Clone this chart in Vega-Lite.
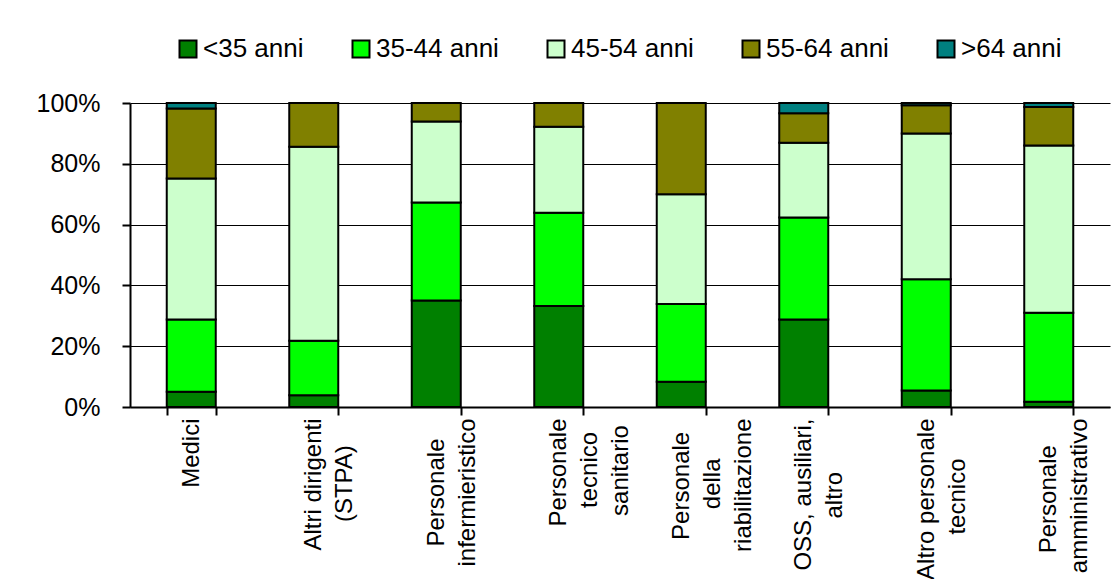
{
  "$schema": "https://vega.github.io/schema/vega-lite/v6.json",
  "autosize": "none",
  "width": 980,
  "height": 304,
  "padding": {"left": 130, "top": 103, "right": 8, "bottom": 172},
  "background": "white",
  "config": {
    "font": "Liberation Sans",
    "view": {"stroke": null},
    "axis": {"labelFont": "Liberation Sans", "labelFontSize": 24, "labelColor": "#000", "domainColor": "#000", "tickColor": "#000", "title": null}
  },
  "data": {
    "values": [
      {"cat": "Medici", "eta": "<35 anni", "v": 5.0},
      {"cat": "Medici", "eta": "35-44 anni", "v": 23.8},
      {"cat": "Medici", "eta": "45-54 anni", "v": 46.4},
      {"cat": "Medici", "eta": "55-64 anni", "v": 23.0},
      {"cat": "Medici", "eta": ">64 anni", "v": 1.8},
      {"cat": "Altri dirigenti (STPA)", "eta": "<35 anni", "v": 3.9},
      {"cat": "Altri dirigenti (STPA)", "eta": "35-44 anni", "v": 17.9},
      {"cat": "Altri dirigenti (STPA)", "eta": "45-54 anni", "v": 63.8},
      {"cat": "Altri dirigenti (STPA)", "eta": "55-64 anni", "v": 14.4},
      {"cat": "Altri dirigenti (STPA)", "eta": ">64 anni", "v": 0},
      {"cat": "Personale infermieristico", "eta": "<35 anni", "v": 35.0},
      {"cat": "Personale infermieristico", "eta": "35-44 anni", "v": 32.3},
      {"cat": "Personale infermieristico", "eta": "45-54 anni", "v": 26.6},
      {"cat": "Personale infermieristico", "eta": "55-64 anni", "v": 6.1},
      {"cat": "Personale infermieristico", "eta": ">64 anni", "v": 0},
      {"cat": "Personale tecnico sanitario", "eta": "<35 anni", "v": 33.2},
      {"cat": "Personale tecnico sanitario", "eta": "35-44 anni", "v": 30.7},
      {"cat": "Personale tecnico sanitario", "eta": "45-54 anni", "v": 28.3},
      {"cat": "Personale tecnico sanitario", "eta": "55-64 anni", "v": 7.8},
      {"cat": "Personale tecnico sanitario", "eta": ">64 anni", "v": 0},
      {"cat": "Personale della riabilitazione", "eta": "<35 anni", "v": 8.3},
      {"cat": "Personale della riabilitazione", "eta": "35-44 anni", "v": 25.6},
      {"cat": "Personale della riabilitazione", "eta": "45-54 anni", "v": 36.1},
      {"cat": "Personale della riabilitazione", "eta": "55-64 anni", "v": 30.0},
      {"cat": "Personale della riabilitazione", "eta": ">64 anni", "v": 0},
      {"cat": "OSS, ausiliari, altro", "eta": "<35 anni", "v": 28.8},
      {"cat": "OSS, ausiliari, altro", "eta": "35-44 anni", "v": 33.5},
      {"cat": "OSS, ausiliari, altro", "eta": "45-54 anni", "v": 24.6},
      {"cat": "OSS, ausiliari, altro", "eta": "55-64 anni", "v": 9.7},
      {"cat": "OSS, ausiliari, altro", "eta": ">64 anni", "v": 3.4},
      {"cat": "Altro personale tecnico", "eta": "<35 anni", "v": 5.4},
      {"cat": "Altro personale tecnico", "eta": "35-44 anni", "v": 36.6},
      {"cat": "Altro personale tecnico", "eta": "45-54 anni", "v": 48.0},
      {"cat": "Altro personale tecnico", "eta": "55-64 anni", "v": 9.3},
      {"cat": "Altro personale tecnico", "eta": ">64 anni", "v": 0.7},
      {"cat": "Personale amministrativo", "eta": "<35 anni", "v": 1.7},
      {"cat": "Personale amministrativo", "eta": "35-44 anni", "v": 29.3},
      {"cat": "Personale amministrativo", "eta": "45-54 anni", "v": 55.0},
      {"cat": "Personale amministrativo", "eta": "55-64 anni", "v": 12.7},
      {"cat": "Personale amministrativo", "eta": ">64 anni", "v": 1.3}
    ]
  },
  "transform": [
    {"calculate": "indexof(['<35 anni','35-44 anni','45-54 anni','55-64 anni','>64 anni'], datum.eta)", "as": "o"}
  ],
  "mark": {"type": "bar", "stroke": "#000", "strokeWidth": 2},
  "encoding": {
    "x": {
      "field": "cat",
      "type": "nominal",
      "sort": null,
      "scale": {"paddingInner": 0.6, "paddingOuter": 0.3},
      "axis": {
        "labelAngle": -90,
        "labelAlign": "right",
        "labelBaseline": "middle",
        "labelLineHeight": 31,
        "labelPadding": 3,
        "labelLimit": 400,
        "tickBand": "extent",
        "tickSize": 8,
        "tickWidth": 2,
        "domainWidth": 2,
        "labelExpr": "datum.label == 'Altri dirigenti (STPA)' ? ['Altri dirigenti', '(STPA)\u00a0\u00a0\u00a0\u00a0\u200b'] : datum.label == 'Personale infermieristico' ? ['Personale\u00a0\u00a0\u00a0\u200b', 'infermieristico'] : datum.label == 'Personale tecnico sanitario' ? ['Personale', 'tecnico\u00a0\u00a0\u200b', 'sanitario\u00a0\u200b'] : datum.label == 'Personale della riabilitazione' ? ['Personale\u00a0\u00a0\u200b', 'della\u00a0\u00a0\u00a0\u00a0\u00a0\u00a0\u200b', 'riabilitazione'] : datum.label == 'OSS, ausiliari, altro' ? ['OSS,  ausiliari,', 'altro\u00a0\u00a0\u00a0\u00a0\u00a0\u00a0\u00a0\u00a0\u200b'] : datum.label == 'Altro personale tecnico' ? ['Altro personale', 'tecnico\u00a0\u00a0\u00a0\u00a0\u00a0\u00a0\u200b'] : datum.label == 'Personale amministrativo' ? ['Personale\u00a0\u00a0\u00a0\u00a0\u200b', 'amministrativo'] : datum.label"
      }
    },
    "y": {
      "field": "v",
      "type": "quantitative",
      "stack": "normalize",
      "scale": {"domain": [0, 1]},
      "axis": {
        "format": ".0%",
        "values": [0, 0.2, 0.4, 0.6, 0.8, 1],
        "labelFontSize": 25,
        "tickSize": 8,
        "tickWidth": 2,
        "domainWidth": 2,
        "labelPadding": 22,
        "grid": true,
        "gridColor": "#000",
        "gridWidth": 1.2,
        "gridOpacity": 1
      }
    },
    "color": {
      "field": "eta",
      "type": "nominal",
      "scale": {
        "domain": ["<35 anni", "35-44 anni", "45-54 anni", "55-64 anni", ">64 anni"],
        "range": ["#008000", "#00FF00", "#CCFFCC", "#808000", "#008080"]
      },
      "legend": {
        "title": null,
        "orient": "none",
        "direction": "horizontal",
        "legendX": 45,
        "legendY": -67,
        "symbolType": "square",
        "symbolSize": 289,
        "symbolStrokeColor": "#000",
        "symbolStrokeWidth": 2,
        "symbolOpacity": 1,
        "labelFont": "Liberation Sans",
        "labelFontSize": 26,
        "labelColor": "#000",
        "labelOffset": 2,
        "columnPadding": 44,
        "labelLimit": 300
      }
    },
    "order": {"field": "o", "type": "quantitative"}
  }
}
